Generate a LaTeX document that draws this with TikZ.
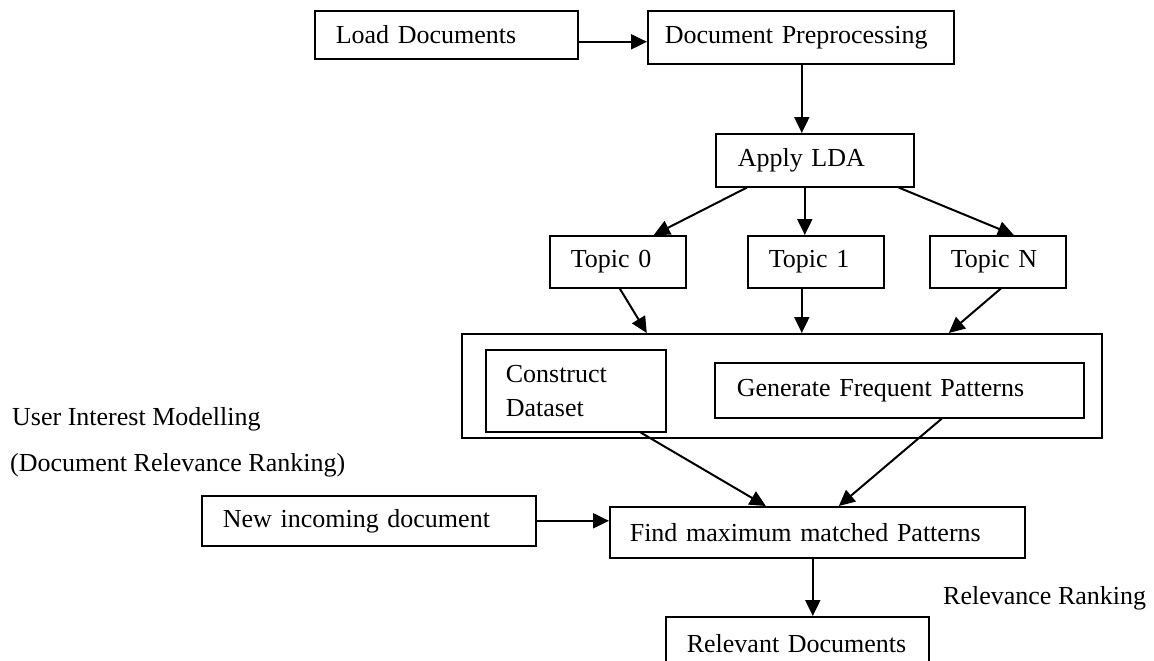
\documentclass[tikz,border=0pt]{standalone}
\usepackage{fontspec}
\setmainfont{Liberation Serif}
\usetikzlibrary{arrows.meta,calc}
\begin{document}
\begin{tikzpicture}[x=1pt,y=-1pt,
  box/.style={draw, line width=1.6pt, anchor=north west, align=left, inner ysep=0pt,
    font=\fontsize{26}{35}\selectfont},
  lbl/.style={anchor=west, inner sep=0pt, font=\fontsize{26}{35}\selectfont},
  arr/.style={line width=2pt, -{Triangle[length=16pt,width=15pt]}}]
\useasboundingbox (0,0) rectangle (1154,661);
\clip (0,0) rectangle (1154,661);
\node[box, text width=221pt, inner xsep=21pt, minimum height=48pt] (load) at (314,10) {Load Documents};
\node[box, text width=272pt, inner xsep=17pt, minimum height=53pt] (docpre) at (647,10) {Document Preprocessing};
\node[box, text width=154pt, inner xsep=22pt, minimum height=53pt] (lda) at (715,133) {Apply LDA};
\node[box, text width=94pt, inner xsep=21pt, minimum height=52pt] (t0) at (549,235) {Topic 0};
\node[box, text width=94pt, inner xsep=21pt, minimum height=52pt] (t1) at (747,235) {Topic 1};
\node[box, text width=94pt, inner xsep=21pt, minimum height=52pt] (tn) at (929,235) {Topic N};
\node[box, minimum width=640pt, minimum height=104pt, inner sep=0pt] (big) at (461,333) {};
\node[box, text width=140pt, inner xsep=20pt, minimum height=82pt] (cons) at (485,349) {Construct\\[-1pt]Dataset};
\node[box, text width=325pt, inner xsep=22pt, minimum height=55pt] (gen) at (714,362) {Generate Frequent Patterns};
\node[box, text width=292pt, inner xsep=21pt, minimum height=50pt] (newin) at (201,495) {New incoming document};
\node[box, text width=375pt, inner xsep=20pt, minimum height=51pt] (find) at (609,506) {Find maximum matched Patterns};
\node[box, text width=221pt, inner xsep=21pt, minimum height=54pt] (rel) at (665,616) {Relevant Documents};
\node[lbl] (uim) at (12,419) {User Interest Modelling};
\node[lbl] (drr) at (10,465) {(Document Relevance Ranking)};
\node[lbl] (rr) at (943,598) {Relevance Ranking};
\draw[arr] ([yshift=-7pt]load.east) -- ([yshift=-7pt]load.east -| docpre.west);
\draw[arr] ([xshift=-13pt]lda.north |- docpre.south) -- ([xshift=-13pt]lda.north);
\draw[arr] ([xshift=-68pt]lda.south) -- ([xshift=36pt]t0.north);
\draw[arr] ([xshift=-10pt]lda.south) -- ([xshift=-10pt]lda.south |- t1.north);
\draw[arr] ([xshift=84pt]lda.south) -- ([xshift=16pt]tn.north);
\draw[arr] ([xshift=2pt]t0.south) -- ([xshift=-135pt]big.north);
\draw[arr] ([xshift=-14pt]t1.south) -- ([xshift=-14pt]t1.south |- big.north);
\draw[arr] ([xshift=3pt]tn.south) -- ([xshift=167pt]big.north);
\draw[arr] ([xshift=65pt]cons.south) -- ([xshift=-51.5pt]find.north);
\draw[arr] ([xshift=42.5pt]gen.south) -- ([xshift=21.5pt]find.north);
\draw[arr] (newin.east) -- (newin.east -| find.west);
\draw[arr] ([xshift=-4.5pt]find.south) -- ([xshift=-4.5pt]find.south |- rel.north);
\end{tikzpicture}
\end{document}
